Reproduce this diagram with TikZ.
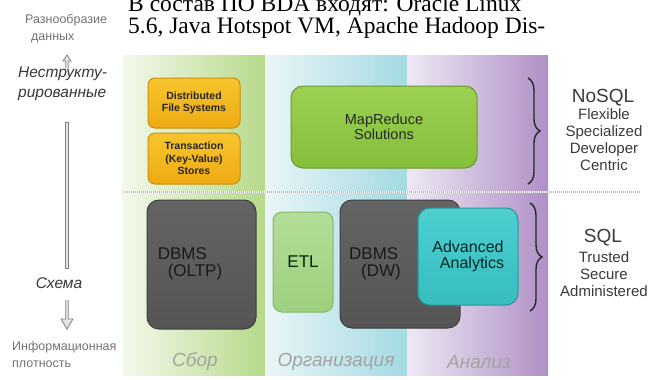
\documentclass[tikz,border=0pt]{standalone}
\usepackage{fontspec}
\setmainfont{Liberation Sans}
\newfontfamily\serifcap{Liberation Serif}
\usetikzlibrary{decorations.pathreplacing,arrows.meta}
\definecolor{grnL}{HTML}{F4F9EC}
\definecolor{grnR}{HTML}{B6D98A}
\definecolor{cyaL}{HTML}{EAF5F7}
\definecolor{cyaR}{HTML}{A3DAE3}
\definecolor{purL}{HTML}{EEE8F3}
\definecolor{purR}{HTML}{AF90C6}
\definecolor{orT}{HTML}{F7C52E}
\definecolor{orB}{HTML}{EEAA12}
\definecolor{orD}{HTML}{C8900F}
\definecolor{mrT}{HTML}{9CD052}
\definecolor{mrB}{HTML}{84BF3A}
\definecolor{mrD}{HTML}{6B9B2F}
\definecolor{etT}{HTML}{B3DD98}
\definecolor{etB}{HTML}{9DD07E}
\definecolor{etD}{HTML}{86B76B}
\definecolor{gyT}{HTML}{646464}
\definecolor{gyB}{HTML}{555555}
\definecolor{gyD}{HTML}{3E3E3E}
\definecolor{aaT}{HTML}{4DCFD0}
\definecolor{aaB}{HTML}{36BDBE}
\definecolor{aaD}{HTML}{2A9799}
\definecolor{lbl}{HTML}{A3A3A3}
\definecolor{txt}{HTML}{3A3A3A}
\definecolor{arr}{HTML}{7E7E7E}
\tikzset{
  box/.style={draw, line width=1pt, rounded corners=9pt, inner sep=0pt, align=center},
  orbox/.style={box, rounded corners=7pt, top color=orT, bottom color=orB, draw=orD,
     minimum width=92pt, font=\bfseries\fontsize{10.5}{12.5}\selectfont, text=black!85},
  graybox/.style={box, rounded corners=12pt, top color=gyT, bottom color=gyB, draw=gyD},
  boxtext/.style={inner sep=0pt, align=left, text=black!90, font=\fontsize{17}{17}\selectfont},
  collabel/.style={inner sep=0pt, text=lbl, font=\itshape\fontsize{19}{19}\selectfont},
  sidetitle/.style={inner sep=0pt, text=txt, font=\fontsize{19}{19}\selectfont},
  sidesub/.style={inner sep=0pt, text=txt, align=center, font=\fontsize{15}{17}\selectfont},
  leftsmall/.style={inner sep=0pt, text=black!55, align=left, font=\fontsize{12.5}{17}\selectfont},
  leftbig/.style={inner sep=0pt, text=black!78, align=left, font=\itshape\fontsize{15.5}{20}\selectfont},
  serline/.style={inner sep=0pt, anchor=base west, font=\serifcap\fontsize{23.5}{23.5}\selectfont},
  bracestyle/.style={decorate, decoration={brace, amplitude=12pt, aspect=0.5}, line width=1.4pt, black!85},
  dshaft/.style={draw=arr, fill=black!10, line width=0.8pt},
}
\begin{document}
\begin{tikzpicture}[x=1pt,y=-1pt]
\clip (0,0) rectangle (649,380);
\fill[white] (0,0) rectangle (649,380);
% columns
\shade[left color=grnL, right color=grnR] (122,55) rectangle (265,375);
\shade[left color=cyaL, right color=cyaR] (265,55) rectangle (407,375);
\shade[left color=purL, right color=purR] (407,55) rectangle (548,375);
% separator
\draw[black!28, line width=1.6pt] (122,192) -- (640,192);
\draw[white, line width=1.6pt, dash pattern=on 0.6pt off 1.4pt] (122,192) -- (640,192);
% top serif text
\node[serline] (l1) at (128,11) {В состав ПО BDA входят: Oracle Linux};
\node[serline] (l2) at (128,34) {5.6, Java Hotspot VM, Apache Hadoop Dis-};
% boxes upper
\node[orbox, minimum height=50pt] (dfs) at (194,103) {Distributed\\File Systems};
\node[orbox, minimum height=51pt] (kvs) at (194,158.5) {Transaction\\(Key-Value)\\Stores};
\node[box, rounded corners=12pt, top color=mrT, bottom color=mrB, draw=mrD,
      minimum width=186pt, minimum height=82pt, text=black!85,
      font=\fontsize{14.5}{15.5}\selectfont] (mr) at (384,127) {MapReduce\\Solutions};
% boxes lower
\node[graybox, minimum width=109pt, minimum height=129pt] (oltp) at (201.5,264.5) {};
\node[boxtext] (oltpt) at (190,263.5) {DBMS\\\hspace*{10pt}(OLTP)};
\node[box, rounded corners=9pt, top color=etT, bottom color=etB, draw=etD,
      minimum width=60pt, minimum height=100pt, text=black!85!green,
      font=\fontsize{17}{17}\selectfont] (etl) at (303,262) {ETL};
\node[graybox, minimum width=120pt, minimum height=128pt] (dw) at (400,264) {};
\node[boxtext] (dwt) at (375,263.5) {DBMS\\\hspace*{12pt}(DW)};
\node[box, rounded corners=12pt, top color=aaT, bottom color=aaB, draw=aaD,
      minimum width=100pt, minimum height=97pt, text=black!70!teal,
      font=\fontsize{16}{15.5}\selectfont] (aa) at (468,256.5) {Advanced\\\hspace*{8pt}Analytics};
% column labels
\node[collabel] (c1) at (195,362) {Сбор};
\node[collabel] (c2) at (336,362) {Организация};
\node[collabel] (c3) at (479,362) {Анализ};
% braces
\coordinate (b1a) at (528,78);
\coordinate (b1b) at (528,184);
\coordinate (b2a) at (530,203);
\coordinate (b2b) at (530,311);
\draw[bracestyle] (b1a) -- (b1b);
\draw[bracestyle] (b2a) -- (b2b);
% right labels
\node[sidetitle] (nosql) at (603,98) {NoSQL};
\node[sidesub] (nosqls) at (604,140) {Flexible\\Specialized\\Developer\\Centric};
\node[sidetitle] (sql) at (603,238) {SQL};
\node[sidesub] (sqls) at (604,274.5) {Trusted\\Secure\\Administered};
% left labels
\node[leftsmall, anchor=west] (div) at (25,29) {Разнообразие\\\hspace*{6pt}данных};
\node[leftbig, anchor=west] (unstr) at (18,84) {Неструкту-\\рированные};
\node[leftbig] (sch) at (59,283) {Схема};
\node[leftsmall, anchor=west] (inf) at (12,354.5) {Информационная\\плотность};
% left arrows
\coordinate (upbot) at (67,68);
\coordinate (uptop) at (67,55);
\draw[dshaft] (65.8,68) -- (65.8,61) -- (63,61) -- (uptop) -- (71,61) -- (68.2,61) -- (68.2,68);
\coordinate (ltop) at (67,122);
\coordinate (lbot) at (67,268);
\draw[dshaft] (65.8,122) rectangle (68.2,268);
\coordinate (dtop) at (67,300);
\coordinate (dtip) at (67,329);
\draw[dshaft] (65.8,300) -- (65.8,319) -- (61,319) -- (dtip) -- (73,319) -- (68.2,319) -- (68.2,300);
\end{tikzpicture}
\end{document}
